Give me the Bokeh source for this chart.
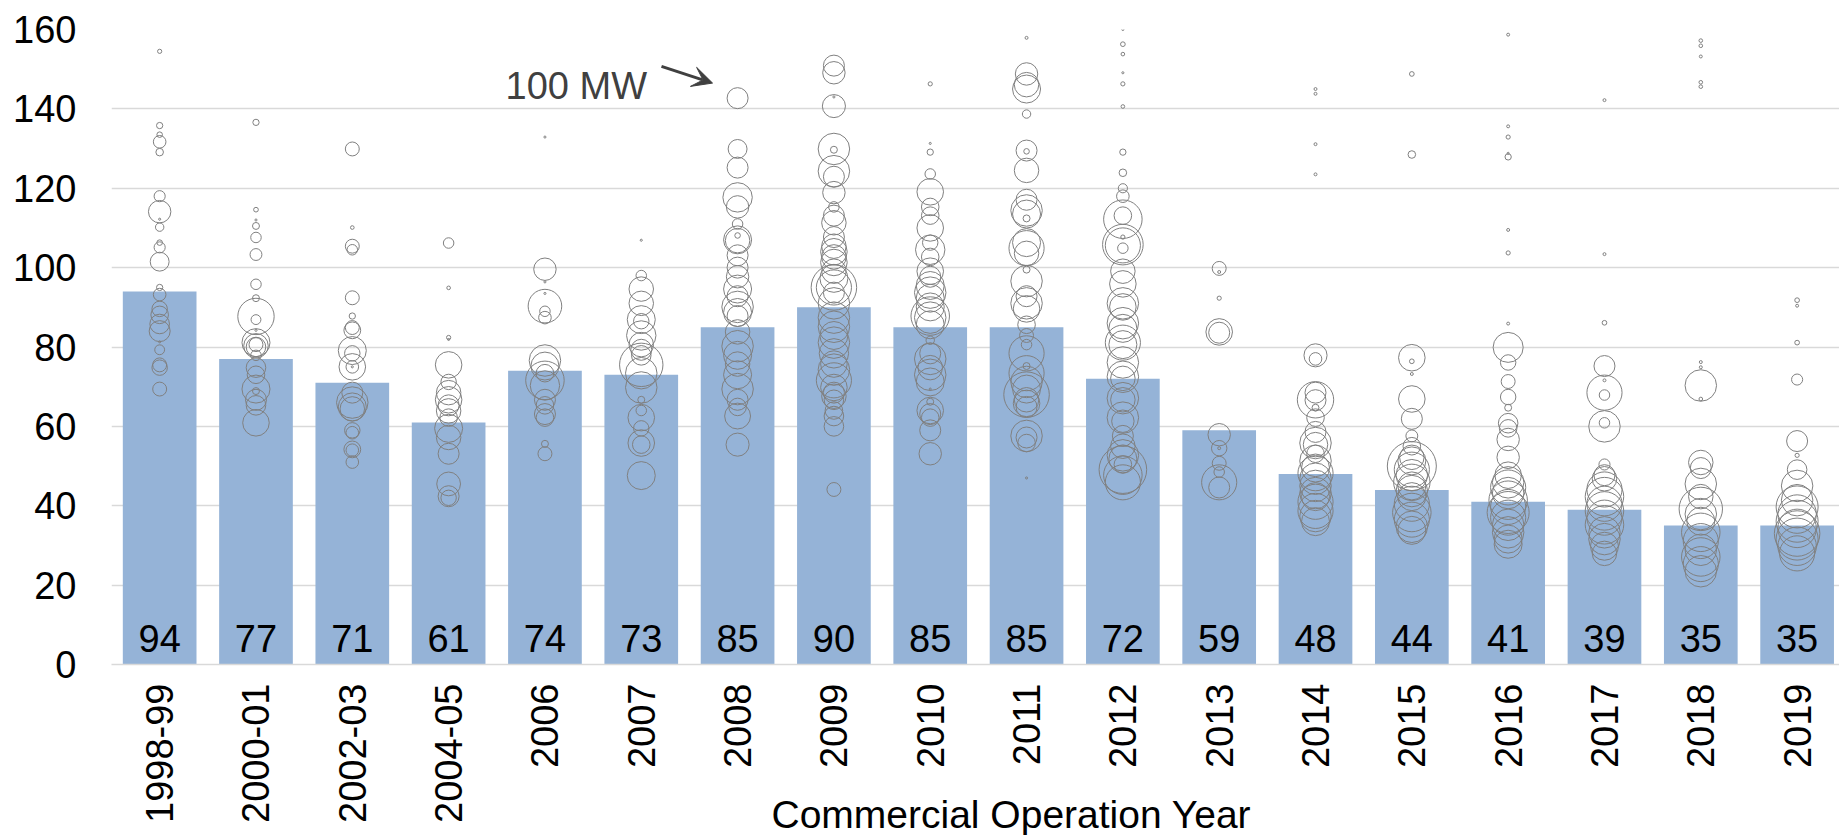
import math
from bokeh.plotting import figure
from bokeh.models import ColumnDataSource, Range1d, FixedTicker, Label, Arrow, VeeHead, Title
from bokeh.embed import file_html
from bokeh.resources import INLINE
from bokeh.core.properties import value

categories = ["1998-99", "2000-01", "2002-03", "2004-05", "2006", "2007", "2008", "2009",
              "2010", "2011", "2012", "2013", "2014", "2015", "2016", "2017", "2018", "2019"]
bar_values = [94, 77, 71, 61, 74, 73, 85, 90, 85, 85, 72, 59, 48, 44, 41, 39, 35, 35]

# individual projects: value and capacity (MW) per category
y_1998_99 = [154.5, 135.8, 133.5, 131.7, 129.1, 118.0, 114.1, 112.2, 110.2, 106.3, 105.1, 101.5, 95.0,
             93.2, 89.6, 88.1, 85.8, 84.0, 81.3, 79.3, 75.5, 74.8, 69.4]
mw_1998_99 = [4, 9, 7, 36, 13, 28, 114, 1, 16, 7, 28, 81, 9, 36, 54, 70, 87, 100, 1, 22, 44, 54, 44]

y_2000_01 = [136.6, 114.6, 112.0, 110.5, 107.6, 103.3, 95.8, 92.3, 87.7, 86.9, 84.2, 81.1, 80.3, 80.0,
             80.6, 77.9, 74.8, 73.0, 69.4, 68.9, 66.7, 65.3, 60.9]
mw_2000_01 = [9, 5, 1, 11, 25, 32, 25, 11, 300, 22, 1, 178, 136, 87, 44, 25, 87, 70, 178, 11, 100, 87, 160]

y_2002_03 = [129.9, 110.1, 105.4, 104.5, 92.4, 87.8, 84.9, 84.2, 79.1, 78.4, 75.0, 75.0, 75.0, 68.5,
             66.0, 64.9, 64.4, 59.0, 58.4, 54.2, 54.0, 51.0]
mw_2002_03 = [44, 3, 44, 25, 44, 9, 44, 64, 178, 54, 160, 36, 1, 100, 225, 178, 136, 54, 36, 64, 36, 36]

y_2004_05 = [106.2, 94.9, 82.4, 81.9, 75.5, 71.2, 68.5, 66.7, 65.3, 63.9, 62.2, 59.5, 57.2, 53.1,
             45.5, 42.4, 42.0]
mw_2004_05 = [25, 3, 4, 1, 160, 54, 136, 160, 100, 136, 70, 178, 136, 100, 128, 100, 54]

y_2006 = [132.9, 99.6, 96.4, 93.5, 90.3, 89.0, 87.4, 76.6, 75.2, 73.4, 71.6, 70.3, 66.7, 65.3, 63.1,
          62.2, 55.6, 53.1]
mw_2006 = [1, 114, 1, 1, 256, 25, 36, 225, 178, 70, 336, 196, 100, 70, 100, 70, 11, 44]

y_2007 = [106.9, 98.0, 94.6, 91.0, 86.9, 86.5, 82.9, 80.6, 79.3, 77.9, 75.5, 73.4, 69.8, 66.7, 64.0,
          62.2, 59.5, 55.8, 55.4, 47.6]
mw_2007 = [1, 25, 136, 136, 178, 54, 196, 136, 100, 87, 427, 225, 225, 11, 25, 160, 54, 160, 70, 178]

y_2008 = [142.7, 129.9, 125.2, 117.7, 115.3, 111.0, 108.1, 107.0, 106.8, 103.1, 100.0, 97.7, 94.6,
          92.8, 90.1, 88.7, 87.8, 83.8, 80.2, 77.9, 75.7, 73.0, 69.4, 66.7, 64.9, 62.6, 55.4]
mw_2008 = [100, 81, 100, 196, 114, 25, 7, 178, 136, 100, 100, 114, 178, 100, 225, 178, 100, 136, 225,
           178, 136, 178, 225, 100, 70, 152, 121]

y_2009 = [150.9, 149.1, 143.0, 140.7, 129.9, 129.7, 124.3, 122.9, 118.9, 115.3, 113.1, 111.3, 107.7,
          105.4, 104.0, 102.7, 101.3, 99.1, 97.3, 95.0, 95.0, 93.7, 91.0, 87.4, 85.1, 82.9, 81.1, 78.4,
          75.7, 74.3, 71.6, 69.8, 68.5, 67.6, 66.7, 64.0, 62.6, 60.0, 44.1]
mw_2009 = [100, 114, 1, 121, 225, 11, 225, 100, 114, 25, 100, 136, 100, 136, 160, 136, 160, 136, 178,
           470, 280, 100, 225, 225, 225, 178, 225, 196, 160, 225, 280, 160, 100, 136, 87, 70, 87, 87, 44]

y_2010 = [146.3, 131.3, 129.1, 123.6, 119.1, 115.3, 113.1, 110.0, 106.3, 104.5, 102.7, 99.1, 97.7,
          95.5, 93.7, 92.3, 90.1, 87.8, 87.4, 85.6, 81.7, 78.4, 77.0, 74.8, 73.0, 71.2, 69.4, 66.2,
          64.0, 63.1, 62.2, 59.0, 53.1]
mw_2010 = [4, 1, 9, 25, 160, 70, 70, 160, 54, 196, 70, 160, 100, 178, 225, 178, 178, 336, 225, 178,
           16, 100, 225, 136, 225, 178, 1, 11, 160, 100, 70, 100, 114]

y_2011 = [157.9, 148.8, 146.1, 145.0, 138.7, 129.5, 129.3, 124.5, 117.1, 114.4, 113.5, 112.4, 106.3,
          104.9, 103.6, 99.5, 96.6, 92.8, 91.0, 89.6, 85.6, 82.9, 80.6, 78.4, 75.2, 73.4, 71.2, 69.4,
          68.0, 66.7, 65.8, 64.9, 57.6, 57.2, 55.8, 47.0]
mw_2011 = [2, 114, 136, 178, 16, 100, 7, 136, 100, 225, 178, 11, 178, 280, 136, 11, 225, 100, 225,
           160, 70, 44, 25, 280, 11, 280, 225, 178, 470, 136, 160, 100, 225, 100, 70, 1]

y_2012 = [160.0, 156.3, 153.8, 149.1, 146.3, 140.6, 129.1, 123.9, 120.0, 118.0, 113.1, 112.2, 107.7,
          105.8, 105.6, 104.9, 99.1, 95.9, 91.0, 90.1, 86.0, 84.7, 81.1, 80.6, 76.1, 72.5, 72.1, 67.1,
          66.7, 62.2, 61.3, 57.6, 55.0, 52.7, 51.8, 50.4, 49.1, 47.7, 45.9]
mw_2012 = [1, 5, 3, 1, 4, 3, 9, 13, 19, 36, 70, 336, 4, 374, 280, 25, 136, 160, 225, 160, 225, 178,
           280, 178, 225, 225, 136, 225, 136, 225, 114, 100, 136, 225, 178, 70, 514, 336, 280]

y_2013 = [99.8, 98.9, 92.3, 83.8, 83.6, 57.9, 54.5, 54.5, 50.7, 48.5, 45.9, 44.6]
mw_2013 = [44, 2, 4, 160, 100, 114, 2, 54, 44, 25, 280, 100]

y_2014 = [145.0, 143.8, 131.1, 123.5, 77.9, 77.0, 68.5, 66.7, 66.6, 64.7, 62.2, 58.6, 55.8, 55.4,
          53.1, 51.3, 49.5, 48.2, 46.8, 45.0, 43.2, 42.3, 41.0, 38.7, 37.4, 36.0]
mw_2014 = [2, 2, 2, 2, 121, 36, 100, 300, 100, 11, 70, 100, 225, 136, 70, 225, 178, 280, 225, 225,
           225, 178, 280, 280, 225, 178]

y_2015 = [148.8, 128.5, 77.3, 76.4, 73.2, 66.9, 61.9, 57.6, 55.0, 52.2, 51.3, 50.0, 49.1, 47.7, 45.9,
          45.0, 43.7, 42.3, 40.5, 38.3, 36.5, 34.7, 33.8]
mw_2015 = [5, 13, 160, 5, 2, 160, 100, 32, 70, 136, 178, 545, 280, 225, 300, 178, 225, 178, 280, 336,
           280, 225, 178]

y_2016 = [158.7, 135.6, 132.9, 128.8, 127.9, 109.5, 103.7, 85.9, 79.9, 76.1, 71.3, 67.4, 64.7, 60.8,
          59.5, 56.7, 52.2, 47.7, 45.9, 44.6, 43.2, 41.4, 39.7, 38.3, 37.0, 35.2, 33.3, 31.6, 30.3]
mw_2016 = [2, 2, 4, 1, 9, 2, 4, 2, 205, 54, 44, 54, 11, 87, 70, 114, 114, 160, 225, 280, 225, 336,
           280, 400, 280, 225, 225, 178, 178]

y_2017 = [142.2, 103.4, 86.1, 75.2, 71.6, 68.5, 67.9, 60.9, 60.0, 50.4, 47.7, 46.8, 44.1, 42.3, 40.5,
          38.7, 37.0, 35.2, 33.3, 31.6, 29.8, 28.0]
mw_2017 = [2, 2, 5, 100, 2, 280, 25, 25, 225, 28, 100, 136, 280, 336, 280, 336, 280, 336, 225, 225,
           178, 136]

y_2018 = [157.2, 155.9, 153.2, 146.7, 145.6, 76.2, 74.9, 70.3, 66.9, 50.9, 49.5, 45.5, 42.3, 39.2,
          37.9, 36.1, 33.3, 31.1, 28.9, 27.1, 25.3, 23.5]
mw_2018 = [3, 3, 2, 3, 3, 2, 2, 225, 3, 136, 100, 225, 136, 427, 225, 178, 336, 280, 225, 336, 280, 225]

y_2019 = [91.8, 90.4, 81.1, 71.8, 56.3, 52.7, 49.1, 45.0, 41.4, 39.7, 37.9, 36.1, 34.3, 33.0, 31.6,
          29.8, 28.0]
mw_2019 = [5, 2, 5, 28, 100, 4, 87, 225, 225, 400, 336, 400, 336, 470, 400, 336, 280]

project_values = [y_1998_99, y_2000_01, y_2002_03, y_2004_05, y_2006, y_2007, y_2008, y_2009, y_2010,
                  y_2011, y_2012, y_2013, y_2014, y_2015, y_2016, y_2017, y_2018, y_2019]
project_mw = [mw_1998_99, mw_2000_01, mw_2002_03, mw_2004_05, mw_2006, mw_2007, mw_2008, mw_2009,
              mw_2010, mw_2011, mw_2012, mw_2013, mw_2014, mw_2015, mw_2016, mw_2017, mw_2018, mw_2019]

FONT = "Liberation Sans"
n = len(categories)
idx = list(range(n))

bx, by, bs = [], [], []
for i, (vals, mws) in enumerate(zip(project_values, project_mw)):
    for v, m in zip(vals, mws):
        bx.append(i)
        by.append(v)
        bs.append(2.1 * math.sqrt(m))
bubbles = ColumnDataSource(dict(x=bx, y=by, size=bs))
bars = ColumnDataSource(dict(x=idx, top=bar_values, label=[str(v) for v in bar_values]))

p = figure(width=1839, height=835, output_backend="svg", toolbar_location=None,
           x_range=Range1d(-0.5, 17.44), y_range=Range1d(0, 160),
           min_border_left=111, min_border_right=0, min_border_top=29, min_border_bottom=171)
p.outline_line_color = None
p.background_fill_color = "white"
p.border_fill_color = "white"

p.vbar(x="x", top="top", width=0.765, source=bars, fill_color="#95B3D7", line_color=None)
p.scatter(x="x", y="y", size="size", source=bubbles, marker="circle", fill_color=None,
          line_color="#808080", line_width=1)
p.text(x="x", y=0, text="label", source=bars, y_offset=-26, text_align="center",
       text_baseline="alphabetic", text_font=value(FONT), text_font_size="38px", text_color="black")

p.xgrid.grid_line_color = None
p.ygrid.grid_line_color = "#d9d9d9"
p.ygrid.grid_line_width = 1.3
p.yaxis.ticker = FixedTicker(ticks=list(range(0, 161, 20)))
p.yaxis.axis_line_color = None
p.yaxis.major_tick_line_color = None
p.yaxis.major_tick_out = 0
p.yaxis.major_tick_in = 0
p.yaxis.minor_tick_line_color = None
p.yaxis.major_label_text_font = FONT
p.yaxis.major_label_text_font_size = "38px"
p.yaxis.major_label_text_color = "black"
p.yaxis.major_label_standoff = 35

p.xaxis.ticker = FixedTicker(ticks=idx)
p.xaxis.major_label_overrides = {i: c for i, c in enumerate(categories)}
p.xaxis.major_label_orientation = math.pi / 2
p.xaxis.axis_line_color = "#d9d9d9"
p.xaxis.axis_line_width = 1.5
p.xaxis.major_tick_line_color = None
p.xaxis.major_tick_out = 0
p.xaxis.major_tick_in = 0
p.xaxis.minor_tick_line_color = None
p.xaxis.major_label_text_font = FONT
p.xaxis.major_label_text_font_size = "38px"
p.xaxis.major_label_text_color = "black"
p.xaxis.major_label_standoff = 19

p.add_layout(Title(text="Commercial Operation Year", align="left", offset=660, vertical_align="top",
                   standoff=-66, text_font=FONT, text_font_size="39px", text_font_style="normal",
                   text_color="black"), "below")

p.add_layout(Label(x=5.06, y=145.8, text="100 MW", text_align="right", text_baseline="alphabetic",
                   text_font=FONT, text_font_size="38px", text_color="#404040"))
p.add_layout(Arrow(x_start=5.21, y_start=150.7, x_end=5.74, y_end=146.5, line_color="#404040",
                   line_width=3, end=VeeHead(size=20, fill_color="#404040", line_color="#404040")))

open("out.html", "w").write(file_html(p, INLINE))
